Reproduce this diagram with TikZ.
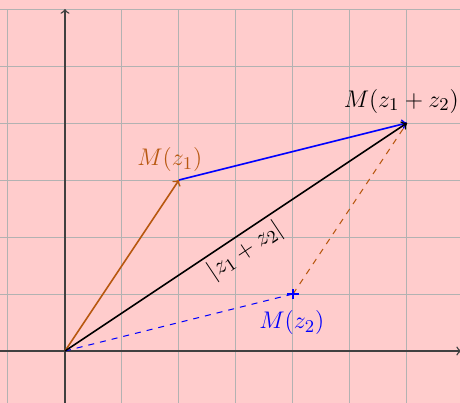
\documentclass[tikz,border=0pt]{standalone}
\usepackage{tikz}
\usetikzlibrary{calc}
\definecolor{bgpink}{RGB}{255,204,204}
\definecolor{mzone}{RGB}{184,88,16}
\tikzset{
  gridline/.style={draw=gray!60, line width=0.5pt},
  axisline/.style={draw=black!75, line width=0.7pt, ->},
  vec/.style={line width=0.8pt, ->},
  dashvec/.style={line width=0.5pt, dashed},
  lbl/.style={font=\fontsize{13}{15}\selectfont, inner sep=2pt},
}
\begin{document}
\begin{tikzpicture}[x=1cm,y=1cm]
\useasboundingbox (-1.140,-0.912) rectangle (6.930,6.158);
\fill[bgpink] (-1.140,-0.912) rectangle (6.930,6.158);
\clip (-1.140,-0.912) rectangle (6.930,6.158);
\draw[gridline] (-2,-2) grid (8,6);
\coordinate (O) at (0,0);
\coordinate (A) at (2,3);
\coordinate (B) at (4,1);
\coordinate (C) at (6,4);
\coordinate (xs) at (-1.2,0);
\coordinate (xe) at (6.95,0);
\coordinate (ys) at (0,-1);
\coordinate (ye) at (0,6);
\draw[axisline] (xs) -- (xe);
\draw[axisline] (ys) -- (ye);
\draw[dashvec, blue] (O) -- (B);
\draw[dashvec, mzone] (B) -- (C);
\draw[vec, mzone] (O) -- (A);
\draw[vec, blue] (A) -- (C);
\draw[vec, black] (O) -- node[lbl, sloped, below] {$|z_1+z_2|$} (C);
\draw[blue, line width=0.9pt] ($(B)+(-0.1,0)$) -- ($(B)+(0.1,0)$) ($(B)+(0,-0.09)$) -- ($(B)+(0,0.09)$);
\node[lbl, mzone] (la) at (1.84,3.36) {$M(z_1)$};
\node[lbl, blue] (lb) at (3.98,0.5) {$M(z_2)$};
\node[lbl, black] (lc) at (5.9,4.38) {$M(z_1+z_2)$};
\end{tikzpicture}
\end{document}
